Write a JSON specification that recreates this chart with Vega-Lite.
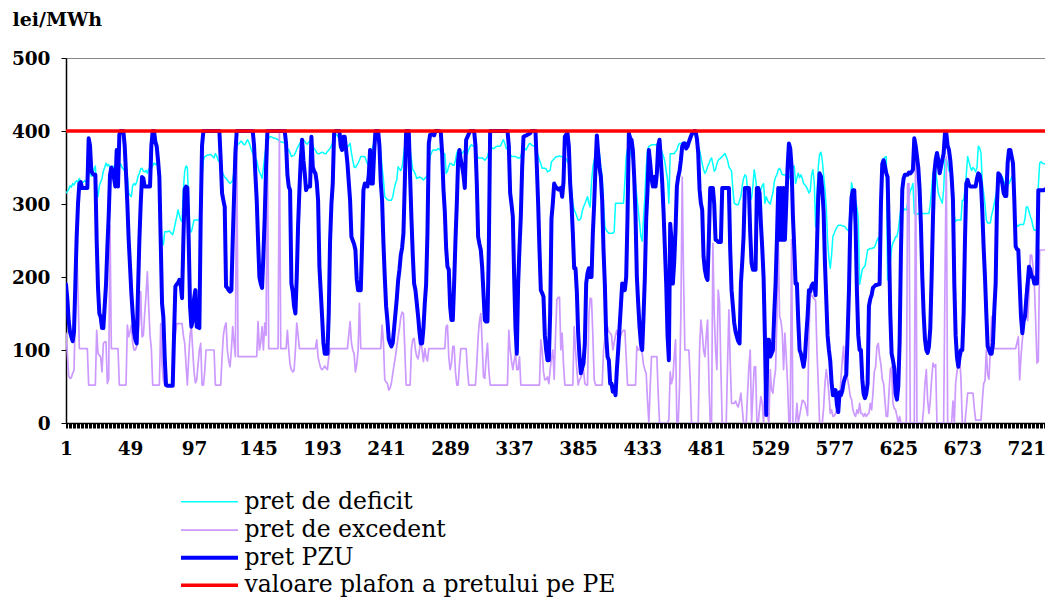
{
"$schema":"https://vega.github.io/schema/vega-lite/v6.json",
"autosize":"none",
"width":979,"height":365,
"padding":{"left":66,"top":58,"right":0,"bottom":175},
"background":"white",
"config":{"view":{"stroke":null}},
"encoding":{
 "y":{"field":"value","type":"quantitative","scale":{"domain":[0,500],"nice":false},
  "axis":{"title":"lei/MWh","titleAngle":0,"titleAlign":"left","titleBaseline":"alphabetic","titleX":-54,"titleY":-33,"titleFont":"DejaVu Serif","titleFontWeight":"bold","titleFontSize":19,"titleColor":"#000",
   "values":[0,100,200,300,400,500],"labelFont":"DejaVu Serif","labelFontWeight":"bold","labelFontSize":18.5,"labelColor":"#000","labelPadding":11,"tickSize":5,"tickColor":"#000","domainColor":"#000","domainWidth":1.5,
   "grid":true,"gridColor":"#888","gridOpacity":{"condition":{"test":"datum.value === 500","value":1},"value":0}}},
 "color":{"field":"key","type":"nominal","scale":{"domain":["d","e","p","c"],"range":["#00FFFF","#CC99FF","#0000FF","#FF0000"]},
  "legend":{"orient":"none","legendX":131.5,"legendY":432,"title":null,"padding":0,
   "labelExpr":"datum.value === 'd' ? 'pret de deficit' : datum.value === 'e' ? 'pret de excedent' : datum.value === 'p' ? 'pret PZU' : 'valoare plafon a pretului pe PE'",
   "symbolType":"M-2.85,0H2.85","symbolSize":400,"labelFont":"DejaVu Serif","labelFontSize":23.5,"labelColor":"#000","labelOffset":23,"labelLimit":600,"rowPadding":3.4}},
 "strokeWidth":{"field":"key","type":"nominal","scale":{"type":"ordinal","domain":["d","e","p","c"],"range":[1.5,1.7,4,3.5]},
  "legend":{"orient":"none","legendX":131.5,"legendY":432,"title":null,"padding":0,
   "labelExpr":"datum.value === 'd' ? 'pret de deficit' : datum.value === 'e' ? 'pret de excedent' : datum.value === 'p' ? 'pret PZU' : 'valoare plafon a pretului pe PE'",
   "symbolType":"M-2.85,0H2.85","symbolSize":400,"labelFont":"DejaVu Serif","labelFontSize":23.5,"labelColor":"#000","labelOffset":23,"labelLimit":600,"rowPadding":3.4}}
},
"layer":[
{
"data":{"values":[
{"h":1,"d":315,"e":123,"p":190},{"h":2,"d":317,"e":95,"p":170},{"h":3,"d":320,"e":65,"p":140},{"h":4,"d":325,"e":61,"p":125},{"h":5,"d":323,"e":62,"p":118},{"h":6,"d":328,"e":68,"p":112},{"h":7,"d":326,"e":72,"p":125},{"h":8,"d":330,"e":150,"p":190},{"h":9,"d":332,"e":250,"p":255},{"h":10,"d":330,"e":180,"p":300},
{"h":11,"d":335,"e":102,"p":328},{"h":12,"d":330,"e":102,"p":330},{"h":13,"d":328,"e":102,"p":322},{"h":14,"d":330,"e":102,"p":322},{"h":15,"d":332,"e":102,"p":322},{"h":16,"d":330,"e":102,"p":322},{"h":17,"d":335,"e":102,"p":322},{"h":18,"d":340,"e":52,"p":390},{"h":19,"d":345,"e":52,"p":380},{"h":20,"d":338,"e":52,"p":345},
{"h":21,"d":340,"e":52,"p":342},{"h":22,"d":348,"e":52,"p":340},{"h":23,"d":352,"e":52,"p":340},{"h":24,"d":320,"e":127,"p":250},{"h":25,"d":310,"e":95,"p":185},{"h":26,"d":325,"e":93,"p":150},{"h":27,"d":330,"e":90,"p":145},{"h":28,"d":335,"e":70,"p":130},{"h":29,"d":345,"e":109,"p":130},{"h":30,"d":350,"e":111,"p":160},
{"h":31,"d":356,"e":111,"p":190},{"h":32,"d":352,"e":54,"p":240},{"h":33,"d":354,"e":60,"p":283},{"h":34,"d":350,"e":270,"p":340},{"h":35,"d":348,"e":102,"p":350},{"h":36,"d":352,"e":102,"p":345},{"h":37,"d":350,"e":102,"p":335},{"h":38,"d":345,"e":102,"p":324},{"h":39,"d":348,"e":102,"p":374},{"h":40,"d":350,"e":102,"p":324},
{"h":41,"d":352,"e":52,"p":395},{"h":42,"d":355,"e":52,"p":400},{"h":43,"d":350,"e":52,"p":400},{"h":44,"d":348,"e":52,"p":400},{"h":45,"d":345,"e":52,"p":380},{"h":46,"d":340,"e":52,"p":342},{"h":47,"d":338,"e":134,"p":300},{"h":48,"d":315,"e":118,"p":251},{"h":49,"d":312,"e":125,"p":215},{"h":50,"d":310,"e":134,"p":178},
{"h":51,"d":325,"e":110,"p":150},{"h":52,"d":328,"e":100,"p":125},{"h":53,"d":326,"e":100,"p":114},{"h":54,"d":330,"e":105,"p":109},{"h":55,"d":338,"e":120,"p":182},{"h":56,"d":342,"e":136,"p":250},{"h":57,"d":348,"e":180,"p":300},{"h":58,"d":349,"e":118,"p":337},{"h":59,"d":345,"e":120,"p":335},{"h":60,"d":344,"e":150,"p":324},
{"h":61,"d":346,"e":175,"p":324},{"h":62,"d":342,"e":207,"p":324},{"h":63,"d":348,"e":160,"p":324},{"h":64,"d":346,"e":120,"p":324},{"h":65,"d":350,"e":102,"p":380},{"h":66,"d":352,"e":52,"p":400},{"h":67,"d":356,"e":52,"p":400},{"h":68,"d":354,"e":52,"p":385},{"h":69,"d":356,"e":52,"p":379},{"h":70,"d":350,"e":52,"p":360},
{"h":71,"d":340,"e":52,"p":337},{"h":72,"d":264,"e":136,"p":250},{"h":73,"d":250,"e":80,"p":164},{"h":74,"d":244,"e":59,"p":145},{"h":75,"d":262,"e":52,"p":90},{"h":76,"d":262,"e":52,"p":52},{"h":77,"d":262,"e":52,"p":51},{"h":78,"d":263,"e":52,"p":51},{"h":79,"d":262,"e":52,"p":51},{"h":80,"d":260,"e":52,"p":51},
{"h":81,"d":258,"e":60,"p":51},{"h":82,"d":265,"e":109,"p":120},{"h":83,"d":274,"e":120,"p":187},{"h":84,"d":282,"e":136,"p":190},{"h":85,"d":292,"e":136,"p":192},{"h":86,"d":285,"e":136,"p":196},{"h":87,"d":278,"e":136,"p":190},{"h":88,"d":276,"e":136,"p":171},{"h":89,"d":320,"e":120,"p":250},{"h":90,"d":345,"e":109,"p":320},
{"h":91,"d":352,"e":80,"p":324},{"h":92,"d":350,"e":52,"p":322},{"h":93,"d":300,"e":90,"p":250},{"h":94,"d":262,"e":120,"p":160},{"h":95,"d":262,"e":132,"p":132},{"h":96,"d":270,"e":100,"p":140},{"h":97,"d":278,"e":70,"p":170},{"h":98,"d":278,"e":55,"p":182},{"h":99,"d":278,"e":59,"p":132},{"h":100,"d":278,"e":80,"p":131},
{"h":101,"d":278,"e":100,"p":130},{"h":102,"d":300,"e":109,"p":283},{"h":103,"d":340,"e":52,"p":380},{"h":104,"d":360,"e":52,"p":400},{"h":105,"d":365,"e":70,"p":400},{"h":106,"d":366,"e":100,"p":400},{"h":107,"d":367,"e":100,"p":400},{"h":108,"d":367,"e":100,"p":400},{"h":109,"d":368,"e":100,"p":400},{"h":110,"d":367,"e":100,"p":400},
{"h":111,"d":365,"e":100,"p":400},{"h":112,"d":363,"e":100,"p":400},{"h":113,"d":369,"e":52,"p":400},{"h":114,"d":366,"e":52,"p":400},{"h":115,"d":360,"e":52,"p":400},{"h":116,"d":358,"e":52,"p":400},{"h":117,"d":353,"e":52,"p":360},{"h":118,"d":345,"e":90,"p":315},{"h":119,"d":340,"e":120,"p":305},{"h":120,"d":337,"e":132,"p":296},
{"h":121,"d":335,"e":137,"p":187},{"h":122,"d":333,"e":100,"p":185},{"h":123,"d":330,"e":85,"p":182},{"h":124,"d":328,"e":77,"p":180},{"h":125,"d":330,"e":100,"p":182},{"h":126,"d":333,"e":132,"p":250},{"h":127,"d":345,"e":110,"p":310},{"h":128,"d":365,"e":91,"p":370},{"h":129,"d":378,"e":400,"p":400},{"h":130,"d":382,"e":91,"p":400},
{"h":131,"d":383,"e":91,"p":400},{"h":132,"d":386,"e":91,"p":400},{"h":133,"d":385,"e":91,"p":400},{"h":134,"d":382,"e":91,"p":400},{"h":135,"d":381,"e":91,"p":400},{"h":136,"d":384,"e":91,"p":400},{"h":137,"d":388,"e":91,"p":400},{"h":138,"d":385,"e":91,"p":400},{"h":139,"d":380,"e":91,"p":400},{"h":140,"d":374,"e":91,"p":400},
{"h":141,"d":370,"e":91,"p":400},{"h":142,"d":365,"e":91,"p":380},{"h":143,"d":362,"e":91,"p":340},{"h":144,"d":360,"e":91,"p":305},{"h":145,"d":350,"e":139,"p":250},{"h":146,"d":344,"e":100,"p":200},{"h":147,"d":340,"e":110,"p":191},{"h":148,"d":335,"e":132,"p":185},{"h":149,"d":350,"e":100,"p":230},{"h":150,"d":365,"e":137,"p":283},
{"h":151,"d":380,"e":120,"p":350},{"h":152,"d":388,"e":400,"p":400},{"h":153,"d":390,"e":102,"p":400},{"h":154,"d":392,"e":102,"p":400},{"h":155,"d":392,"e":102,"p":400},{"h":156,"d":391,"e":102,"p":400},{"h":157,"d":390,"e":102,"p":400},{"h":158,"d":390,"e":102,"p":400},{"h":159,"d":389,"e":102,"p":400},{"h":160,"d":388,"e":102,"p":400},
{"h":161,"d":386,"e":400,"p":400},{"h":162,"d":385,"e":102,"p":400},{"h":163,"d":385,"e":102,"p":400},{"h":164,"d":384,"e":102,"p":400},{"h":165,"d":383,"e":102,"p":400},{"h":166,"d":380,"e":102,"p":383},{"h":167,"d":376,"e":127,"p":340},{"h":168,"d":374,"e":100,"p":324},{"h":169,"d":370,"e":80,"p":319},{"h":170,"d":365,"e":73,"p":191},
{"h":171,"d":366,"e":70,"p":180},{"h":172,"d":367,"e":72,"p":160},{"h":173,"d":370,"e":100,"p":150},{"h":174,"d":375,"e":137,"p":200},{"h":175,"d":379,"e":120,"p":270},{"h":176,"d":382,"e":102,"p":319},{"h":177,"d":385,"e":102,"p":360},{"h":178,"d":387,"e":102,"p":388},{"h":179,"d":388,"e":102,"p":360},{"h":180,"d":386,"e":102,"p":342},
{"h":181,"d":383,"e":102,"p":319},{"h":182,"d":382,"e":102,"p":324},{"h":183,"d":385,"e":102,"p":324},{"h":184,"d":386,"e":102,"p":324},{"h":185,"d":388,"e":102,"p":392},{"h":186,"d":380,"e":102,"p":351},{"h":187,"d":376,"e":102,"p":345},{"h":188,"d":374,"e":102,"p":342},{"h":189,"d":370,"e":114,"p":330},{"h":190,"d":369,"e":90,"p":305},
{"h":191,"d":369,"e":82,"p":214},{"h":192,"d":370,"e":75,"p":180},{"h":193,"d":371,"e":73,"p":146},{"h":194,"d":370,"e":75,"p":110},{"h":195,"d":369,"e":78,"p":95},{"h":196,"d":369,"e":75,"p":95},{"h":197,"d":372,"e":73,"p":95},{"h":198,"d":374,"e":90,"p":150},{"h":199,"d":376,"e":102,"p":250},{"h":200,"d":380,"e":102,"p":300},
{"h":201,"d":385,"e":102,"p":328},{"h":202,"d":390,"e":102,"p":397},{"h":203,"d":395,"e":102,"p":400},{"h":204,"d":395,"e":102,"p":400},{"h":205,"d":392,"e":102,"p":400},{"h":206,"d":390,"e":102,"p":400},{"h":207,"d":388,"e":102,"p":379},{"h":208,"d":388,"e":102,"p":374},{"h":209,"d":388,"e":102,"p":392},{"h":210,"d":382,"e":102,"p":392},
{"h":211,"d":374,"e":102,"p":374},{"h":212,"d":378,"e":102,"p":356},{"h":213,"d":380,"e":120,"p":330},{"h":214,"d":383,"e":139,"p":305},{"h":215,"d":370,"e":110,"p":255},{"h":216,"d":360,"e":100,"p":250},{"h":217,"d":351,"e":95,"p":245},{"h":218,"d":350,"e":70,"p":237},{"h":219,"d":353,"e":80,"p":196},{"h":220,"d":356,"e":100,"p":182},
{"h":221,"d":360,"e":164,"p":182},{"h":222,"d":365,"e":102,"p":182},{"h":223,"d":365,"e":102,"p":246},{"h":224,"d":365,"e":102,"p":319},{"h":225,"d":365,"e":102,"p":328},{"h":226,"d":360,"e":102,"p":326},{"h":227,"d":355,"e":102,"p":324},{"h":228,"d":352,"e":102,"p":340},{"h":229,"d":360,"e":102,"p":374},{"h":230,"d":370,"e":102,"p":328},
{"h":231,"d":378,"e":102,"p":328},{"h":232,"d":385,"e":102,"p":370},{"h":233,"d":392,"e":102,"p":400},{"h":234,"d":395,"e":102,"p":400},{"h":235,"d":390,"e":102,"p":400},{"h":236,"d":386,"e":102,"p":380},{"h":237,"d":370,"e":102,"p":330},{"h":238,"d":350,"e":134,"p":305},{"h":239,"d":333,"e":110,"p":246},{"h":240,"d":310,"e":59,"p":200},
{"h":241,"d":308,"e":56,"p":160},{"h":242,"d":306,"e":54,"p":140},{"h":243,"d":305,"e":45,"p":115},{"h":244,"d":305,"e":48,"p":109},{"h":245,"d":305,"e":55,"p":105},{"h":246,"d":310,"e":68,"p":110},{"h":247,"d":320,"e":80,"p":130},{"h":248,"d":328,"e":91,"p":150},{"h":249,"d":333,"e":105,"p":170},{"h":250,"d":351,"e":118,"p":195},
{"h":251,"d":348,"e":130,"p":210},{"h":252,"d":346,"e":145,"p":230},{"h":253,"d":351,"e":152,"p":240},{"h":254,"d":365,"e":150,"p":260},{"h":255,"d":380,"e":102,"p":328},{"h":256,"d":392,"e":52,"p":400},{"h":257,"d":390,"e":52,"p":400},{"h":258,"d":386,"e":52,"p":400},{"h":259,"d":375,"e":52,"p":337},{"h":260,"d":360,"e":102,"p":280},
{"h":261,"d":347,"e":114,"p":230},{"h":262,"d":345,"e":116,"p":191},{"h":263,"d":340,"e":100,"p":182},{"h":264,"d":335,"e":91,"p":164},{"h":265,"d":336,"e":88,"p":146},{"h":266,"d":337,"e":100,"p":125},{"h":267,"d":336,"e":114,"p":109},{"h":268,"d":335,"e":100,"p":109},{"h":269,"d":333,"e":84,"p":130},{"h":270,"d":335,"e":102,"p":164},
{"h":271,"d":337,"e":90,"p":190},{"h":272,"d":340,"e":85,"p":260},{"h":273,"d":350,"e":102,"p":383},{"h":274,"d":365,"e":102,"p":395},{"h":275,"d":370,"e":102,"p":395},{"h":276,"d":374,"e":102,"p":397},{"h":277,"d":374,"e":102,"p":394},{"h":278,"d":374,"e":102,"p":400},{"h":279,"d":374,"e":102,"p":400},{"h":280,"d":376,"e":102,"p":400},
{"h":281,"d":375,"e":102,"p":400},{"h":282,"d":372,"e":102,"p":398},{"h":283,"d":370,"e":102,"p":370},{"h":284,"d":368,"e":102,"p":320},{"h":285,"d":369,"e":102,"p":290},{"h":286,"d":342,"e":132,"p":240},{"h":287,"d":345,"e":134,"p":214},{"h":288,"d":352,"e":90,"p":210},{"h":289,"d":356,"e":73,"p":160},{"h":290,"d":355,"e":82,"p":141},
{"h":291,"d":353,"e":105,"p":141},{"h":292,"d":353,"e":105,"p":191},{"h":293,"d":360,"e":70,"p":250},{"h":294,"d":370,"e":52,"p":300},{"h":295,"d":374,"e":52,"p":360},{"h":296,"d":372,"e":80,"p":374},{"h":297,"d":370,"e":102,"p":360},{"h":298,"d":369,"e":102,"p":351},{"h":299,"d":372,"e":102,"p":340},{"h":300,"d":374,"e":102,"p":322},
{"h":301,"d":372,"e":102,"p":388},{"h":302,"d":369,"e":73,"p":392},{"h":303,"d":375,"e":52,"p":396},{"h":304,"d":379,"e":52,"p":400},{"h":305,"d":381,"e":52,"p":400},{"h":306,"d":380,"e":52,"p":400},{"h":307,"d":378,"e":52,"p":400},{"h":308,"d":374,"e":52,"p":380},{"h":309,"d":368,"e":82,"p":328},{"h":310,"d":363,"e":118,"p":255},
{"h":311,"d":363,"e":140,"p":245},{"h":312,"d":363,"e":150,"p":237},{"h":313,"d":363,"e":110,"p":214},{"h":314,"d":362,"e":63,"p":178},{"h":315,"d":360,"e":61,"p":141},{"h":316,"d":362,"e":90,"p":139},{"h":317,"d":365,"e":109,"p":139},{"h":318,"d":372,"e":73,"p":237},{"h":319,"d":379,"e":52,"p":400},{"h":320,"d":378,"e":52,"p":400},
{"h":321,"d":376,"e":52,"p":400},{"h":322,"d":376,"e":52,"p":400},{"h":323,"d":378,"e":52,"p":400},{"h":324,"d":379,"e":52,"p":400},{"h":325,"d":379,"e":52,"p":400},{"h":326,"d":379,"e":52,"p":400},{"h":327,"d":380,"e":52,"p":400},{"h":328,"d":385,"e":52,"p":400},{"h":329,"d":388,"e":52,"p":400},{"h":330,"d":383,"e":52,"p":400},
{"h":331,"d":376,"e":52,"p":400},{"h":332,"d":376,"e":52,"p":400},{"h":333,"d":372,"e":127,"p":380},{"h":334,"d":368,"e":100,"p":315},{"h":335,"d":365,"e":85,"p":300},{"h":336,"d":365,"e":73,"p":283},{"h":337,"d":365,"e":85,"p":200},{"h":338,"d":365,"e":95,"p":130},{"h":339,"d":364,"e":73,"p":95},{"h":340,"d":363,"e":73,"p":191},
{"h":341,"d":363,"e":91,"p":240},{"h":342,"d":365,"e":52,"p":283},{"h":343,"d":372,"e":52,"p":350},{"h":344,"d":379,"e":52,"p":392},{"h":345,"d":376,"e":52,"p":393},{"h":346,"d":374,"e":52,"p":394},{"h":347,"d":378,"e":52,"p":395},{"h":348,"d":382,"e":52,"p":396},{"h":349,"d":383,"e":52,"p":397},{"h":350,"d":381,"e":52,"p":400},
{"h":351,"d":380,"e":52,"p":400},{"h":352,"d":379,"e":52,"p":400},{"h":353,"d":381,"e":52,"p":400},{"h":354,"d":372,"e":52,"p":351},{"h":355,"d":366,"e":52,"p":300},{"h":356,"d":360,"e":52,"p":237},{"h":357,"d":355,"e":114,"p":182},{"h":358,"d":349,"e":100,"p":178},{"h":359,"d":349,"e":70,"p":173},{"h":360,"d":349,"e":59,"p":120},
{"h":361,"d":348,"e":60,"p":100},{"h":362,"d":344,"e":63,"p":86},{"h":363,"d":345,"e":54,"p":86},{"h":364,"d":346,"e":73,"p":150},{"h":365,"d":358,"e":90,"p":280},{"h":366,"d":360,"e":100,"p":301},{"h":367,"d":362,"e":60,"p":328},{"h":368,"d":364,"e":118,"p":324},{"h":369,"d":365,"e":169,"p":322},{"h":370,"d":365,"e":172,"p":320},
{"h":371,"d":366,"e":172,"p":320},{"h":372,"d":365,"e":100,"p":322},{"h":373,"d":365,"e":123,"p":310},{"h":374,"d":362,"e":80,"p":330},{"h":375,"d":360,"e":52,"p":392},{"h":376,"d":362,"e":52,"p":395},{"h":377,"d":358,"e":52,"p":397},{"h":378,"d":355,"e":52,"p":379},{"h":379,"d":345,"e":52,"p":328},{"h":380,"d":320,"e":52,"p":300},
{"h":381,"d":300,"e":52,"p":260},{"h":382,"d":292,"e":132,"p":212},{"h":383,"d":288,"e":100,"p":212},{"h":384,"d":283,"e":73,"p":180},{"h":385,"d":278,"e":52,"p":123},{"h":386,"d":278,"e":59,"p":91},{"h":387,"d":280,"e":62,"p":68},{"h":388,"d":290,"e":68,"p":75},{"h":389,"d":296,"e":73,"p":82},{"h":390,"d":300,"e":54,"p":109},
{"h":391,"d":305,"e":52,"p":191},{"h":392,"d":310,"e":52,"p":205},{"h":393,"d":301,"e":146,"p":212},{"h":394,"d":296,"e":171,"p":200},{"h":395,"d":330,"e":170,"p":200},{"h":396,"d":350,"e":120,"p":260},{"h":397,"d":360,"e":60,"p":300},{"h":398,"d":365,"e":52,"p":351},{"h":399,"d":370,"e":52,"p":394},{"h":400,"d":372,"e":52,"p":370},
{"h":401,"d":368,"e":52,"p":350},{"h":402,"d":350,"e":52,"p":337},{"h":403,"d":337,"e":52,"p":305},{"h":404,"d":300,"e":100,"p":237},{"h":405,"d":270,"e":114,"p":190},{"h":406,"d":264,"e":120,"p":120},{"h":407,"d":262,"e":132,"p":91},{"h":408,"d":260,"e":125,"p":86},{"h":409,"d":260,"e":123,"p":54},{"h":410,"d":260,"e":120,"p":54},
{"h":411,"d":260,"e":100,"p":43},{"h":412,"d":262,"e":110,"p":50},{"h":413,"d":301,"e":120,"p":38},{"h":414,"d":301,"e":127,"p":73},{"h":415,"d":301,"e":118,"p":100},{"h":416,"d":301,"e":115,"p":130},{"h":417,"d":301,"e":120,"p":160},{"h":418,"d":301,"e":125,"p":191},{"h":419,"d":301,"e":127,"p":182},{"h":420,"d":330,"e":127,"p":182},
{"h":421,"d":365,"e":90,"p":200},{"h":422,"d":375,"e":52,"p":283},{"h":423,"d":378,"e":52,"p":397},{"h":424,"d":374,"e":52,"p":390},{"h":425,"d":365,"e":52,"p":388},{"h":426,"d":360,"e":52,"p":374},{"h":427,"d":345,"e":52,"p":337},{"h":428,"d":328,"e":52,"p":283},{"h":429,"d":310,"e":105,"p":200},{"h":430,"d":292,"e":100,"p":164},
{"h":431,"d":275,"e":100,"p":132},{"h":432,"d":256,"e":114,"p":109},{"h":433,"d":249,"e":95,"p":100},{"h":434,"d":280,"e":80,"p":146},{"h":435,"d":310,"e":73,"p":200},{"h":436,"d":350,"e":68,"p":280},{"h":437,"d":374,"e":30,"p":319},{"h":438,"d":379,"e":0,"p":374},{"h":439,"d":380,"e":50,"p":356},{"h":440,"d":381,"e":91,"p":335},
{"h":441,"d":381,"e":91,"p":324},{"h":442,"d":381,"e":91,"p":337},{"h":443,"d":381,"e":91,"p":324},{"h":444,"d":382,"e":91,"p":342},{"h":445,"d":383,"e":40,"p":380},{"h":446,"d":378,"e":0,"p":388},{"h":447,"d":376,"e":0,"p":360},{"h":448,"d":370,"e":0,"p":330},{"h":449,"d":365,"e":0,"p":290},{"h":450,"d":358,"e":0,"p":240},
{"h":451,"d":345,"e":0,"p":191},{"h":452,"d":333,"e":0,"p":120},{"h":453,"d":301,"e":5,"p":86},{"h":454,"d":369,"e":70,"p":273},{"h":455,"d":369,"e":54,"p":250},{"h":456,"d":369,"e":62,"p":191},{"h":457,"d":369,"e":90,"p":220},{"h":458,"d":372,"e":114,"p":264},{"h":459,"d":374,"e":0,"p":324},{"h":460,"d":380,"e":0,"p":337},
{"h":461,"d":383,"e":50,"p":345},{"h":462,"d":383,"e":150,"p":360},{"h":463,"d":383,"e":337,"p":379},{"h":464,"d":384,"e":200,"p":383},{"h":465,"d":385,"e":100,"p":383},{"h":466,"d":376,"e":100,"p":376},{"h":467,"d":378,"e":100,"p":379},{"h":468,"d":385,"e":100,"p":385},{"h":469,"d":390,"e":60,"p":390},{"h":470,"d":393,"e":0,"p":395},
{"h":471,"d":395,"e":0,"p":398},{"h":472,"d":396,"e":0,"p":400},{"h":473,"d":392,"e":0,"p":400},{"h":474,"d":385,"e":0,"p":390},{"h":475,"d":378,"e":0,"p":370},{"h":476,"d":374,"e":100,"p":320},{"h":477,"d":365,"e":141,"p":301},{"h":478,"d":355,"e":125,"p":292},{"h":479,"d":347,"e":100,"p":228},{"h":480,"d":342,"e":91,"p":210},
{"h":481,"d":345,"e":118,"p":200},{"h":482,"d":351,"e":141,"p":196},{"h":483,"d":355,"e":60,"p":255},{"h":484,"d":360,"e":0,"p":322},{"h":485,"d":363,"e":0,"p":322},{"h":486,"d":355,"e":246,"p":322},{"h":487,"d":345,"e":150,"p":300},{"h":488,"d":347,"e":100,"p":251},{"h":489,"d":355,"e":73,"p":250},{"h":490,"d":360,"e":182,"p":248},
{"h":491,"d":362,"e":164,"p":248},{"h":492,"d":363,"e":73,"p":248},{"h":493,"d":365,"e":0,"p":322},{"h":494,"d":367,"e":0,"p":322},{"h":495,"d":369,"e":0,"p":322},{"h":496,"d":365,"e":0,"p":322},{"h":497,"d":360,"e":80,"p":322},{"h":498,"d":351,"e":155,"p":322},{"h":499,"d":348,"e":82,"p":237},{"h":500,"d":345,"e":27,"p":182},
{"h":501,"d":320,"e":27,"p":160},{"h":502,"d":301,"e":27,"p":137},{"h":503,"d":300,"e":30,"p":125},{"h":504,"d":299,"e":25,"p":118},{"h":505,"d":299,"e":22,"p":112},{"h":506,"d":305,"e":30,"p":109},{"h":507,"d":310,"e":41,"p":191},{"h":508,"d":325,"e":20,"p":220},{"h":509,"d":335,"e":0,"p":255},{"h":510,"d":340,"e":0,"p":322},
{"h":511,"d":338,"e":0,"p":322},{"h":512,"d":320,"e":40,"p":322},{"h":513,"d":310,"e":77,"p":322},{"h":514,"d":305,"e":100,"p":260},{"h":515,"d":308,"e":0,"p":219},{"h":516,"d":325,"e":40,"p":210},{"h":517,"d":347,"e":77,"p":210},{"h":518,"d":335,"e":77,"p":210},{"h":519,"d":320,"e":0,"p":322},{"h":520,"d":312,"e":0,"p":322},
{"h":521,"d":315,"e":20,"p":315},{"h":522,"d":320,"e":36,"p":273},{"h":523,"d":325,"e":27,"p":240},{"h":524,"d":328,"e":0,"p":200},{"h":525,"d":301,"e":54,"p":118},{"h":526,"d":310,"e":27,"p":11},{"h":527,"d":305,"e":10,"p":114},{"h":528,"d":302,"e":0,"p":114},{"h":529,"d":300,"e":73,"p":91},{"h":530,"d":308,"e":45,"p":95},
{"h":531,"d":315,"e":41,"p":100},{"h":532,"d":330,"e":60,"p":150},{"h":533,"d":337,"e":73,"p":191},{"h":534,"d":340,"e":146,"p":251},{"h":535,"d":347,"e":255,"p":322},{"h":536,"d":349,"e":146,"p":251},{"h":537,"d":345,"e":140,"p":322},{"h":538,"d":340,"e":125,"p":251},{"h":539,"d":340,"e":73,"p":322},{"h":540,"d":340,"e":123,"p":251},
{"h":541,"d":338,"e":90,"p":300},{"h":542,"d":336,"e":54,"p":350},{"h":543,"d":335,"e":0,"p":383},{"h":544,"d":340,"e":0,"p":376},{"h":545,"d":348,"e":251,"p":351},{"h":546,"d":351,"e":0,"p":283},{"h":547,"d":352,"e":0,"p":240},{"h":548,"d":328,"e":0,"p":191},{"h":549,"d":336,"e":27,"p":191},{"h":550,"d":342,"e":0,"p":140},
{"h":551,"d":336,"e":10,"p":100},{"h":552,"d":340,"e":20,"p":95},{"h":553,"d":335,"e":31,"p":86},{"h":554,"d":328,"e":30,"p":77},{"h":555,"d":326,"e":27,"p":90},{"h":556,"d":324,"e":20,"p":120},{"h":557,"d":320,"e":10,"p":146},{"h":558,"d":315,"e":120,"p":182},{"h":559,"d":318,"e":178,"p":180},{"h":560,"d":340,"e":175,"p":188},
{"h":561,"d":347,"e":172,"p":191},{"h":562,"d":330,"e":170,"p":191},{"h":563,"d":269,"e":168,"p":175},{"h":564,"d":310,"e":100,"p":240},{"h":565,"d":350,"e":54,"p":310},{"h":566,"d":368,"e":0,"p":342},{"h":567,"d":371,"e":0,"p":338},{"h":568,"d":360,"e":0,"p":320},{"h":569,"d":340,"e":20,"p":290},{"h":570,"d":320,"e":54,"p":220},
{"h":571,"d":296,"e":73,"p":170},{"h":572,"d":250,"e":60,"p":120},{"h":573,"d":225,"e":40,"p":100},{"h":574,"d":212,"e":13,"p":85},{"h":575,"d":230,"e":18,"p":55},{"h":576,"d":256,"e":9,"p":38},{"h":577,"d":260,"e":10,"p":40},{"h":578,"d":265,"e":13,"p":45},{"h":579,"d":268,"e":20,"p":25},{"h":580,"d":271,"e":27,"p":15},
{"h":581,"d":271,"e":32,"p":42},{"h":582,"d":271,"e":60,"p":38},{"h":583,"d":270,"e":86,"p":44},{"h":584,"d":270,"e":105,"p":55},{"h":585,"d":269,"e":73,"p":62},{"h":586,"d":266,"e":73,"p":66},{"h":587,"d":265,"e":60,"p":120},{"h":588,"d":262,"e":50,"p":180},{"h":589,"d":300,"e":36,"p":270},{"h":590,"d":329,"e":32,"p":310},
{"h":591,"d":320,"e":18,"p":319},{"h":592,"d":312,"e":12,"p":319},{"h":593,"d":305,"e":9,"p":270},{"h":594,"d":295,"e":18,"p":180},{"h":595,"d":280,"e":13,"p":120},{"h":596,"d":190,"e":27,"p":100},{"h":597,"d":200,"e":13,"p":100},{"h":598,"d":210,"e":13,"p":60},{"h":599,"d":213,"e":9,"p":40},{"h":600,"d":215,"e":13,"p":34},
{"h":601,"d":225,"e":9,"p":40},{"h":602,"d":237,"e":12,"p":54},{"h":603,"d":238,"e":13,"p":160},{"h":604,"d":239,"e":27,"p":170},{"h":605,"d":239,"e":18,"p":175},{"h":606,"d":240,"e":40,"p":185},{"h":607,"d":240,"e":70,"p":187},{"h":608,"d":245,"e":77,"p":189},{"h":609,"d":250,"e":105,"p":189},{"h":610,"d":254,"e":109,"p":190},
{"h":611,"d":241,"e":91,"p":190},{"h":612,"d":320,"e":80,"p":300},{"h":613,"d":360,"e":60,"p":355},{"h":614,"d":362,"e":54,"p":360},{"h":615,"d":364,"e":30,"p":352},{"h":616,"d":365,"e":9,"p":342},{"h":617,"d":196,"e":9,"p":337},{"h":618,"d":200,"e":40,"p":250},{"h":619,"d":220,"e":73,"p":150},{"h":620,"d":240,"e":77,"p":95},
{"h":621,"d":247,"e":27,"p":86},{"h":622,"d":250,"e":20,"p":75},{"h":623,"d":255,"e":18,"p":40},{"h":624,"d":255,"e":9,"p":32},{"h":625,"d":265,"e":0,"p":50},{"h":626,"d":280,"e":9,"p":110},{"h":627,"d":294,"e":0,"p":235},{"h":628,"d":296,"e":0,"p":320},{"h":629,"d":294,"e":0,"p":335},{"h":630,"d":292,"e":0,"p":340},
{"h":631,"d":292,"e":0,"p":340},{"h":632,"d":300,"e":328,"p":340},{"h":633,"d":310,"e":328,"p":343},{"h":634,"d":318,"e":0,"p":342},{"h":635,"d":322,"e":0,"p":344},{"h":636,"d":328,"e":0,"p":347},{"h":637,"d":287,"e":0,"p":390},{"h":638,"d":285,"e":379,"p":380},{"h":639,"d":286,"e":0,"p":365},{"h":640,"d":287,"e":0,"p":350},
{"h":641,"d":287,"e":0,"p":320},{"h":642,"d":287,"e":0,"p":270},{"h":643,"d":287,"e":0,"p":200},{"h":644,"d":287,"e":20,"p":150},{"h":645,"d":287,"e":54,"p":115},{"h":646,"d":287,"e":73,"p":100},{"h":647,"d":287,"e":31,"p":96},{"h":648,"d":287,"e":13,"p":105},{"h":649,"d":300,"e":31,"p":130},{"h":650,"d":320,"e":60,"p":200},
{"h":651,"d":342,"e":82,"p":280},{"h":652,"d":347,"e":77,"p":342},{"h":653,"d":348,"e":80,"p":360},{"h":654,"d":330,"e":0,"p":370},{"h":655,"d":315,"e":0,"p":360},{"h":656,"d":310,"e":0,"p":342},{"h":657,"d":305,"e":0,"p":351},{"h":658,"d":301,"e":0,"p":360},{"h":659,"d":319,"e":0,"p":369},{"h":660,"d":360,"e":191,"p":397},
{"h":661,"d":362,"e":365,"p":397},{"h":662,"d":355,"e":0,"p":380},{"h":663,"d":345,"e":0,"p":374},{"h":664,"d":350,"e":0,"p":360},{"h":665,"d":345,"e":0,"p":337},{"h":666,"d":328,"e":30,"p":305},{"h":667,"d":283,"e":0,"p":191},{"h":668,"d":276,"e":54,"p":120},{"h":669,"d":278,"e":70,"p":90},{"h":670,"d":278,"e":82,"p":77},
{"h":671,"d":278,"e":91,"p":91},{"h":672,"d":278,"e":60,"p":100},{"h":673,"d":305,"e":0,"p":100},{"h":674,"d":305,"e":0,"p":150},{"h":675,"d":320,"e":0,"p":250},{"h":676,"d":340,"e":20,"p":328},{"h":677,"d":365,"e":41,"p":333},{"h":678,"d":358,"e":41,"p":326},{"h":679,"d":351,"e":41,"p":324},{"h":680,"d":346,"e":41,"p":324},
{"h":681,"d":350,"e":41,"p":324},{"h":682,"d":348,"e":20,"p":324},{"h":683,"d":344,"e":4,"p":324},{"h":684,"d":350,"e":4,"p":335},{"h":685,"d":379,"e":4,"p":342},{"h":686,"d":377,"e":4,"p":340},{"h":687,"d":370,"e":4,"p":328},{"h":688,"d":328,"e":30,"p":290},{"h":689,"d":315,"e":54,"p":240},{"h":690,"d":300,"e":58,"p":200},
{"h":691,"d":278,"e":100,"p":150},{"h":692,"d":274,"e":66,"p":105},{"h":693,"d":274,"e":60,"p":100},{"h":694,"d":274,"e":100,"p":95},{"h":695,"d":285,"e":146,"p":95},{"h":696,"d":292,"e":120,"p":110},{"h":697,"d":301,"e":102,"p":155},{"h":698,"d":310,"e":102,"p":191},{"h":699,"d":320,"e":102,"p":300},{"h":700,"d":335,"e":102,"p":342},
{"h":701,"d":342,"e":102,"p":340},{"h":702,"d":340,"e":102,"p":335},{"h":703,"d":337,"e":102,"p":328},{"h":704,"d":332,"e":102,"p":315},{"h":705,"d":327,"e":102,"p":311},{"h":706,"d":324,"e":102,"p":311},{"h":707,"d":326,"e":102,"p":356},{"h":708,"d":328,"e":102,"p":374},{"h":709,"d":332,"e":102,"p":374},{"h":710,"d":337,"e":102,"p":365},
{"h":711,"d":340,"e":102,"p":356},{"h":712,"d":310,"e":102,"p":305},{"h":713,"d":278,"e":102,"p":242},{"h":714,"d":269,"e":110,"p":238},{"h":715,"d":270,"e":118,"p":237},{"h":716,"d":272,"e":59,"p":191},{"h":717,"d":272,"e":91,"p":146},{"h":718,"d":272,"e":114,"p":123},{"h":719,"d":272,"e":130,"p":140},{"h":720,"d":280,"e":160,"p":146},
{"h":721,"d":296,"e":191,"p":170},{"h":722,"d":296,"e":140,"p":191},{"h":723,"d":290,"e":175,"p":214},{"h":724,"d":283,"e":230,"p":210},{"h":725,"d":278,"e":230,"p":200},{"h":726,"d":269,"e":215,"p":200},{"h":727,"d":264,"e":191,"p":191},{"h":728,"d":264,"e":140,"p":191},{"h":729,"d":264,"e":82,"p":191},{"h":730,"d":324,"e":85,"p":319},
{"h":731,"d":356,"e":237,"p":319},{"h":732,"d":358,"e":237,"p":319},{"h":733,"d":356,"e":237,"p":319},{"h":734,"d":355,"e":237,"p":319},{"h":735,"d":355,"e":237,"p":320}
]},
"transform":[{"fold":["d","e","p"],"as":["key","value"]}],
"mark":{"type":"line","strokeJoin":"round","strokeCap":"round","clip":true},
"encoding":{
 "x":{"field":"h","type":"quantitative","scale":{"domain":[1,735],"nice":false,"zero":false},
  "axis":{"title":null,"tickCount":735,"format":"d","labelExpr":"(datum.value - 1) % 48 === 0 ? datum.label : ''","labelOverlap":false,"labelFlush":false,"labelBound":false,
   "labelFont":"DejaVu Serif","labelFontWeight":"bold","labelFontSize":18.5,"labelColor":"#000","labelPadding":11,"tickSize":5,"tickColor":"#000","tickWidth":1,"domainColor":"#000","domainWidth":1.5,"grid":false}}
}
},
{
"data":{"values":[{"key":"c","value":400}]},
"mark":{"type":"rule"},
"encoding":{}
}
]
}
